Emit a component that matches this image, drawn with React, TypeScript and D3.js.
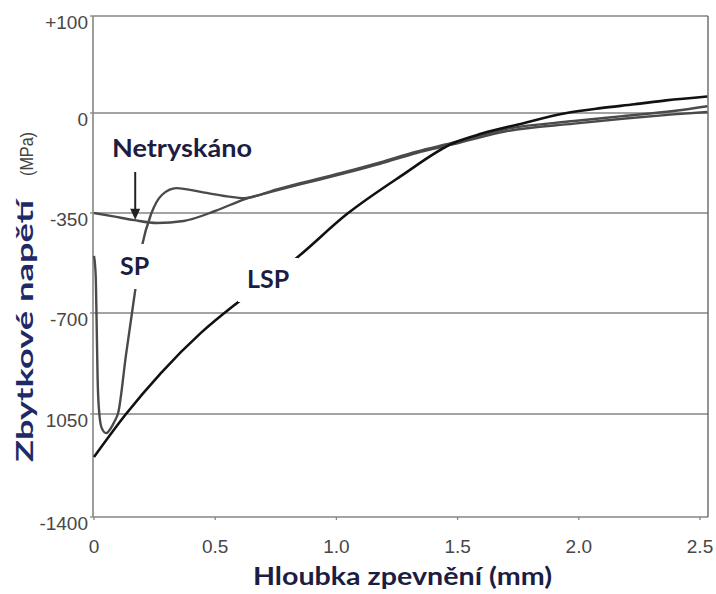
import React from "react";
import * as d3 from "d3";

// Depth ticks (mm) and stress gridlines (MPa)
const depthTicks = [0, 0.5, 1.0, 1.5, 2.0, 2.5];
const depthTickLabels = ["0", "0.5", "1.0", "1.5", "2.0", "2.5"];
const stressTicks = [100, 0, -350, -700, -1050, -1400];
const stressTickLabels = ["+100", "0", "-350", "-700", "1050", "-1400"];

// Residual stress profiles: [depth mm, stress MPa]
const unpeened: [number, number][] = [
  [0, -350], [0.08, -362], [0.165, -375], [0.26, -385], [0.37, -378],
  [0.5, -343], [0.62, -302], [0.75, -272], [0.85, -250], [1.02, -214],
  [1.18, -178], [1.33, -140], [1.48, -110], [1.7, -64], [1.98, -37],
  [2.18, -20], [2.39, -5], [2.53, 1],
];

const shotPeened: [number, number][] = [
  [0, -500], [0.007, -570], [0.011, -740], [0.015, -930], [0.022, -1050],
  [0.032, -1098], [0.05, -1115], [0.068, -1100], [0.085, -1075], [0.1, -1045],
  [0.132, -845], [0.165, -650], [0.198, -465], [0.235, -355], [0.28, -287],
  [0.34, -263], [0.45, -278], [0.55, -292], [0.62, -298], [0.75, -268],
  [0.85, -246], [1.02, -210], [1.18, -173], [1.33, -135], [1.48, -104],
  [1.7, -56], [1.98, -28], [2.18, -11], [2.39, 2], [2.53, 7],
];

const laserPeened: [number, number][] = [
  [0, -1196], [0.132, -1050], [0.276, -908], [0.441, -769], [0.605, -655],
  [0.832, -510], [1.046, -352], [1.264, -222], [1.483, -105], [1.6, -72],
  [1.75, -40], [1.95, 0], [2.09, 5], [2.23, 9], [2.36, 13], [2.53, 17],
];

// Arrow pointing at the unpeened curve
const arrowDepth = 0.17;
const arrowStress = -374;

const W = 716;
const H = 594;
const plot = { left: 93, right: 708, top: 16, bottom: 517 };

const x = d3.scaleLinear().domain([0, 2.5]).range([94, 700]);
// Piecewise stress axis: the top band (0..+100) is drawn at its own spacing
const y = d3
  .scaleLinear()
  .domain([-1400, -1050, -700, -350, 0, 100])
  .range([517, 414, 313, 213, 113, 16]);

const line = d3
  .line<[number, number]>()
  .x((d) => x(d[0]))
  .y((d) => y(d[1]))
  .curve(d3.curveMonotoneX);

const gridColor = "#858585";
const labelFont = "Lato, 'Open Sans', sans-serif";
const tickFont = "'Liberation Sans', Arial, sans-serif";
const navy = "#1b1d42";

export default function App() {
  const ax = x(arrowDepth);
  const ay = y(arrowStress);
  return (
    <svg
      width={W}
      height={H}
      viewBox={`0 0 ${W} ${H}`}
      style={{ position: "absolute", left: 0, top: 0, display: "block", background: "#fff" }}
    >
      <rect x={0} y={0} width={W} height={H} fill="#fff" />

      {/* horizontal gridlines */}
      {stressTicks.map((s) => (
        <line
          key={`g${s}`}
          x1={plot.left}
          x2={plot.right}
          y1={y(s)}
          y2={y(s)}
          stroke={gridColor}
          strokeWidth={1.5}
        />
      ))}
      {/* frame */}
      <line x1={plot.left} x2={plot.left} y1={plot.top} y2={plot.bottom} stroke={gridColor} strokeWidth={1.6} />
      <line x1={plot.right} x2={plot.right} y1={plot.top} y2={plot.bottom} stroke="#5a5a5a" strokeWidth={1.3} />

      {/* tick marks */}
      {stressTicks.map((s) => (
        <line key={`yt${s}`} x1={plot.left - 3} x2={plot.left} y1={y(s)} y2={y(s)} stroke={gridColor} strokeWidth={1.3} />
      ))}
      {depthTicks.map((d) => (
        <line key={`xt${d}`} x1={x(d)} x2={x(d)} y1={plot.bottom} y2={plot.bottom + 3} stroke={gridColor} strokeWidth={1.3} />
      ))}

      {/* tick labels */}
      {stressTicks.map((s, i) => (
        <text
          key={`yl${s}`}
          x={88}
          y={y(s) + 13}
          textAnchor="end"
          fontFamily={tickFont}
          fontSize={19}
          fill="#474747"
        >
          {stressTickLabels[i]}
        </text>
      ))}
      {depthTicks.map((d, i) => (
        <text
          key={`xl${d}`}
          x={x(d)}
          y={553}
          textAnchor="middle"
          fontFamily={tickFont}
          fontSize={19}
          fill="#474747"
        >
          {depthTickLabels[i]}
        </text>
      ))}

      {/* curves */}
      <path d={line(unpeened) ?? ""} fill="none" stroke="#4a4a4a" strokeWidth={2.4} />
      <path d={line(shotPeened) ?? ""} fill="none" stroke="#4a4a4a" strokeWidth={2.4} />
      <path d={line(laserPeened) ?? ""} fill="none" stroke="#111" strokeWidth={2.6} />

      {/* label backgrounds */}
      <rect x={117} y={244} width={39} height={45} fill="#fff" />
      <rect x={238} y={258} width={60} height={44} fill="#fff" />

      {/* arrow */}
      <line x1={ax} x2={ax} y1={172} y2={ay - 8} stroke="#222" strokeWidth={2} />
      <path d={`M${ax - 5},${ay - 11} L${ax + 5},${ay - 11} L${ax},${ay} Z`} fill="#222" />

      {/* curve labels */}
      <text
        x={112}
        y={157}
        fontFamily={labelFont}
        fontWeight={700}
        fontSize={24}
        fill={navy}
        textLength={140}
        lengthAdjust="spacingAndGlyphs"
      >
        Netryskáno
      </text>
      <text x={120} y={275} fontFamily={labelFont} fontWeight={700} fontSize={25} fill={navy}>
        SP
      </text>
      <text x={247} y={288} fontFamily={labelFont} fontWeight={700} fontSize={25} fill={navy}>
        LSP
      </text>

      {/* axis titles */}
      <text
        transform="translate(33,462) rotate(-90)"
        fontFamily={labelFont}
        fontWeight={700}
        fontSize={23}
        fill="#1e2a66"
        textLength={262}
        lengthAdjust="spacingAndGlyphs"
      >
        Zbytkové napětí
      </text>
      <text
        transform="translate(33,176) rotate(-90)"
        fontFamily={tickFont}
        fontSize={18}
        fill="#444"
        textLength={44}
        lengthAdjust="spacingAndGlyphs"
      >
        (MPa)
      </text>
      <text
        x={253}
        y={585}
        fontFamily={labelFont}
        fontWeight={700}
        fontSize={25}
        fill={navy}
        textLength={299}
        lengthAdjust="spacingAndGlyphs"
      >
        Hloubka zpevnění (mm)
      </text>
    </svg>
  );
}
